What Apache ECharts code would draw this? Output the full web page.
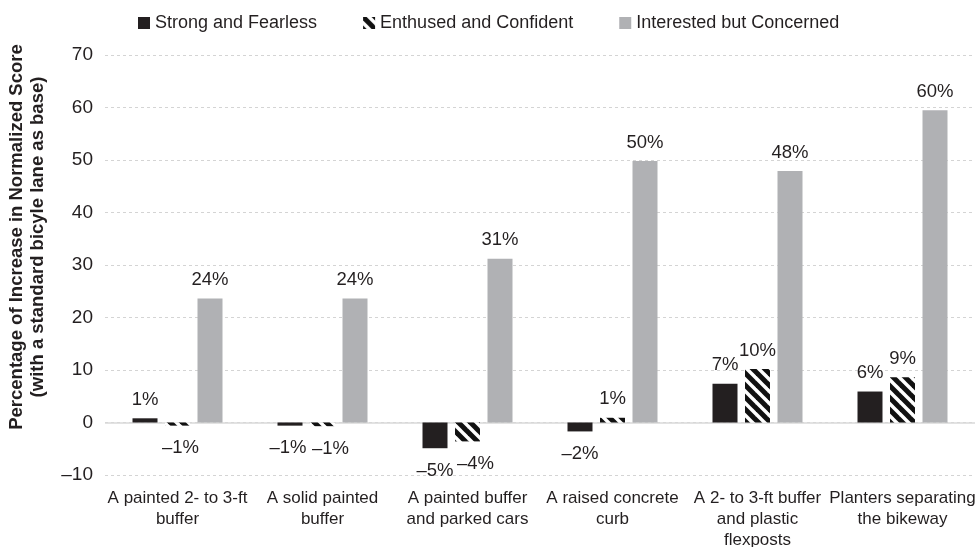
<!DOCTYPE html>
<html>
<head>
<meta charset="utf-8">
<script src="https://cdn.jsdelivr.net/npm/echarts@6/dist/echarts.min.js"></script>
<style>
  html, body { margin: 0; padding: 0; background: #fff; }
  #chart { width: 975px; height: 547px; }
</style>
</head>
<body>
<div id="chart"></div>
<script>
// Bikeway treatments compared against a standard bicycle lane
const categories = [
  'A painted 2- to 3-ft\nbuffer',
  'A solid painted\nbuffer',
  'A painted buffer\nand parked cars',
  'A raised concrete\ncurb',
  'A 2- to 3-ft buffer\nand plastic\nflexposts',
  'Planters separating\nthe bikeway'
];
const seriesNames = ['Strong and Fearless', 'Enthused and Confident', 'Interested but Concerned'];
const strongFearless = [0.8, -0.6, -4.9, -1.7, 7.4, 5.9];
const enthusedConfident = [-0.6, -0.7, -3.6, 0.9, 10.2, 8.6];
const interestedConcerned = [23.6, 23.6, 31.2, 49.8, 47.9, 59.5];
const yTicks = { min: -10, max: 70, interval: 10 };

// Horizontal nudges (px) that keep neighbouring negative labels apart
const strongNudge = [0, -2, 0, 0, 0, 0];
const enthusedNudge = [3, 8, 8, 0, 0, 0];

const FONT = '"Liberation Sans", Arial, sans-serif';
const INK = '#231f20';

// Diagonal stripe fill for the hatched series
function stripeCanvas() {
  const s = 12;
  const c = document.createElement('canvas');
  c.width = s; c.height = s;
  const g = c.getContext('2d');
  g.fillStyle = '#fff';
  g.fillRect(0, 0, s, s);
  g.strokeStyle = '#111';
  g.lineWidth = 5;
  for (let k = -1; k <= 1; k++) {
    g.beginPath();
    g.moveTo(-2 + k * s, -2);
    g.lineTo(s + 2 + k * s, s + 2);
    g.stroke();
  }
  return c;
}
const stripes = { image: stripeCanvas(), repeat: 'repeat' };

function fmt(v) {
  const r = Math.round(v);
  return (r < 0 ? '\u2013' + Math.abs(r) : String(r)) + '%';
}

function withLabels(values, nudge) {
  return values.map((v, i) => ({
    value: v,
    label: {
      position: v < 0 ? 'bottom' : 'top',
      distance: v < 0 ? 13 : 9,
      offset: [nudge ? nudge[i] : 0, 0]
    }
  }));
}

const labelStyle = {
  show: true,
  fontFamily: FONT,
  fontSize: 18.5,
  color: INK,
  formatter: p => fmt(p.value)
};

const chart = echarts.init(document.getElementById('chart'), null, { renderer: 'canvas' });
chart.setOption({
  animation: false,
  backgroundColor: '#fff',
  legend: {
    top: 9,
    left: 133,
    icon: 'rect',
    itemWidth: 12,
    itemHeight: 12,
    itemGap: 46,
    textStyle: { fontFamily: FONT, fontSize: 18, color: INK },
    data: seriesNames
  },
  grid: { left: 105, right: 0, top: 55, bottom: 72, outerBoundsMode: 'none', containLabel: false },
  xAxis: {
    type: 'category',
    data: categories,
    axisLine: { show: false },
    axisTick: { show: false },
    axisLabel: {
      interval: 0,
      margin: 13,
      fontFamily: FONT,
      fontSize: 17,
      lineHeight: 21,
      color: INK
    }
  },
  yAxis: {
    type: 'value',
    min: yTicks.min,
    max: yTicks.max,
    interval: yTicks.interval,
    name: 'Percentage of Increase in Normalized Score\n(with a standard bicyle lane as base)',
    nameLocation: 'middle',
    nameGap: 57,
    nameTextStyle: {
      fontFamily: FONT,
      fontSize: 18.5,
      fontWeight: 'bold',
      lineHeight: 21,
      color: INK,
      padding: [0, 0, 0, 56]
    },
    axisLine: { show: false },
    axisTick: { show: false },
    axisLabel: {
      margin: 12,
      fontFamily: FONT,
      fontSize: 19,
      color: INK,
      formatter: v => (v < 0 ? '\u2013' + Math.abs(v) : String(v))
    },
    splitLine: { lineStyle: { color: '#d4d4d4', type: [3, 3], width: 1 } }
  },
  series: [
    {
      name: seriesNames[0],
      type: 'bar',
      barWidth: 25,
      barGap: '30%',
      itemStyle: { color: INK },
      label: labelStyle,
      data: withLabels(strongFearless, strongNudge),
      markLine: {
        silent: true,
        symbol: 'none',
        label: { show: false },
        lineStyle: { color: '#d9d9d9', type: 'solid', width: 1.5 },
        data: [{ yAxis: 0 }],
        z: 1
      }
    },
    {
      name: seriesNames[1],
      type: 'bar',
      barWidth: 25,
      barGap: '30%',
      itemStyle: { color: stripes },
      label: labelStyle,
      data: withLabels(enthusedConfident, enthusedNudge)
    },
    {
      name: seriesNames[2],
      type: 'bar',
      barWidth: 25,
      barGap: '30%',
      itemStyle: { color: '#b0b1b4' },
      label: labelStyle,
      data: withLabels(interestedConcerned)
    }
  ]
});
</script>
</body>
</html>
